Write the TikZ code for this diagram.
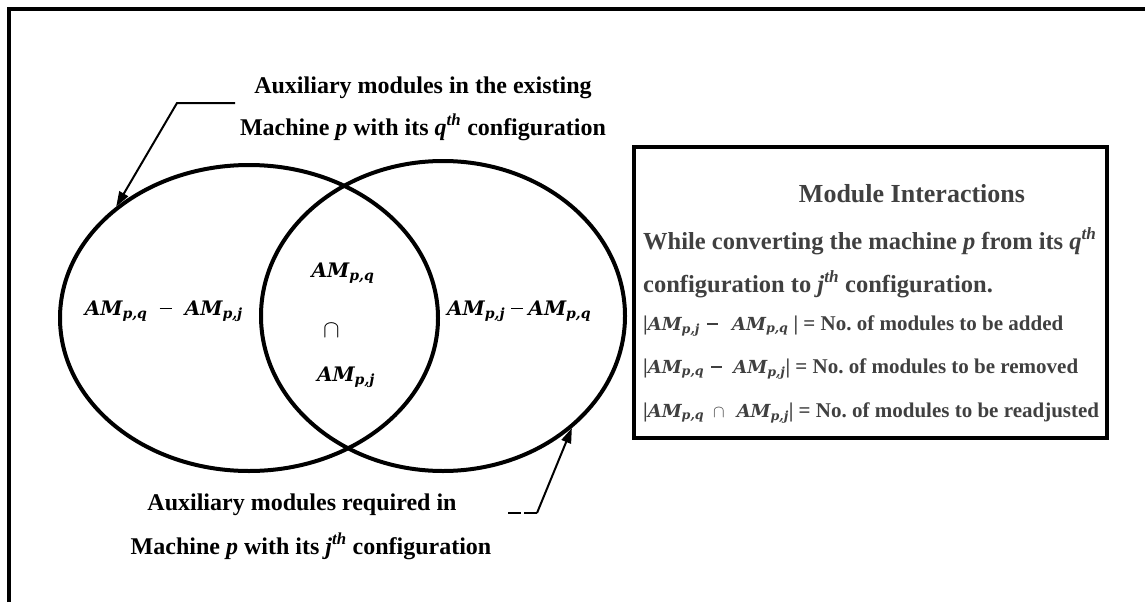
\documentclass[tikz,border=0pt]{standalone}
\usepackage{fontspec}
\setmainfont{Liberation Serif}
\newfontfamily\amfont{DejaVu Serif}
\newcommand\AMx[1]{{\amfont\bfseries\itshape AM\textsubscript{#1}}}
\newcommand\opm{\rule[0.28em]{0.62em}{0.085em}}
\usetikzlibrary{arrows.meta,shapes.geometric}
\definecolor{boxtext}{RGB}{64,64,64}
\begin{document}
\begin{tikzpicture}[x=1pt,y=-1pt,
  lead/.style={line width=2pt},
  tipped/.style={-{Triangle[length=15pt,width=10pt]}},
  ann/.style={font=\fontsize{24}{28}\selectfont\bfseries, inner sep=0pt, anchor=base},
  amt/.style={font=\fontsize{20}{24}\selectfont, inner sep=0pt},
  vset/.style={draw, ellipse, line width=4pt, inner sep=0pt},
  boxt/.style={font=\fontsize{24.5}{30}\selectfont\bfseries, text=boxtext, inner sep=0pt, anchor=base west},
  boxf/.style={font=\fontsize{21}{26}\selectfont\bfseries, text=boxtext, inner sep=0pt, anchor=base west},
]
\useasboundingbox (0,0) rectangle (1145,602);
\draw[line width=4pt] (8.7,602) -- (8.7,8.7) -- (1145,8.7);

% Venn sets
\node[vset, minimum width=378pt, minimum height=306pt] (L) at (249,318) {};
\node[vset, minimum width=364pt, minimum height=310pt] (R) at (443,316) {};

% labels in sets
\node[amt, anchor=base east] (lq) at (243,315) {\AMx{p,q}\hspace{12pt}\opm\hspace{13pt}\AMx{p,j}};
\node[amt, anchor=base] (mq) at (343,277) {\AMx{p,q}};
\node[amt, font=\fontsize{24}{28}\selectfont] (cap) at (331.5,331) {$\cap$};
\node[amt, anchor=base] (mj) at (346,381) {\AMx{p,j}};
\node[amt, anchor=base west] (rj) at (447,315) {\AMx{p,j}\hspace{6pt}\opm\hspace{5pt}\AMx{p,q}};

% top annotation
\node[ann] (a1) at (423,93) {Auxiliary modules in the existing};
\node[ann] (a2) at (423,135) {Machine \textit{p} with its \textit{q}\textsuperscript{\textit{th}} configuration};
\coordinate (t1) at (235,103);
\coordinate (t2) at (177,103);
\draw[lead,tipped] (t1) -- (t2) -- (L.140);

% bottom annotation
\node[ann] (b1t) at (302,510) {Auxiliary modules required in};
\node[ann] (b2t) at (311,554) {Machine \textit{p} with its \textit{j}\textsuperscript{\textit{th}} configuration};
\coordinate (b1) at (508,513);
\coordinate (b2) at (537,513);
\draw[lead, dash pattern=on 13pt off 3pt] (b1) -- (b2);
\draw[lead,tipped] (b2) -- (R.-41);

% box
\node[draw, line width=3.5pt, minimum width=473pt, minimum height=291pt, inner sep=0pt] (box) at (870.5,292.5) {};
\node[boxt, anchor=base, font=\fontsize{26}{30}\selectfont\bfseries] (title) at (912,202) {Module Interactions};
\node[boxt] (l1) at (643,249) {While converting the machine \textit{p} from its \textit{q}\textsuperscript{\textit{th}}};
\node[boxt] (l2) at (643,292) {configuration to \textit{j}\textsuperscript{\textit{th}} configuration.};
\node[boxf] (l3) at (643,330) {|{\fontsize{18}{22}\selectfont\AMx{p,j}\hspace{7pt}\opm\hspace{14pt}\AMx{p,q}}\hspace{5pt}| = No.\ of modules to be added};
\node[boxf] (l4) at (643,373) {|{\fontsize{18}{22}\selectfont\AMx{p,q}\hspace{7pt}\opm\hspace{11pt}\AMx{p,j}}| = No.\ of modules to be removed};
\node[boxf] (l5) at (643,417) {|{\fontsize{18}{22}\selectfont\AMx{p,q}\hspace{9pt}$\cap$\hspace{12pt}\AMx{p,j}}| = No.\ of modules to be readjusted};
\end{tikzpicture}
\end{document}
